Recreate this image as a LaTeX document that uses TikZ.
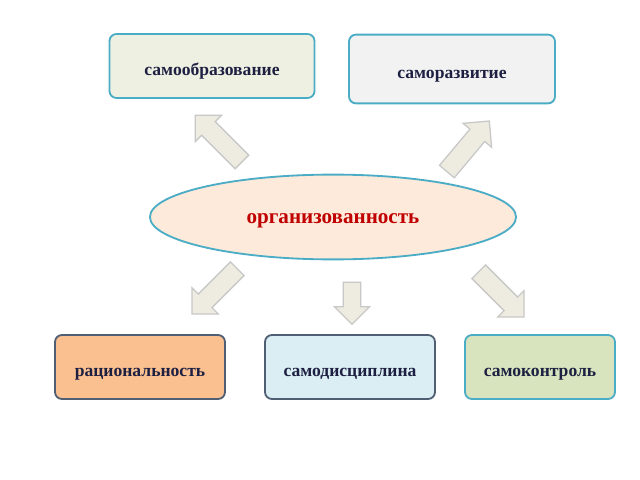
\documentclass[tikz,border=0pt]{standalone}
\usepackage{fontspec}
\setmainfont{Liberation Serif}
\usetikzlibrary{shapes.geometric,shapes.arrows}
\definecolor{boxline}{RGB}{75,172,198}
\definecolor{darkline}{RGB}{80,95,115}
\definecolor{boxtext}{RGB}{30,32,66}
\definecolor{redtext}{RGB}{192,0,0}
\definecolor{arrowfill}{RGB}{238,236,225}
\definecolor{arrowline}{RGB}{200,200,200}
\definecolor{fillA}{RGB}{238,240,226}
\definecolor{fillB}{RGB}{242,242,242}
\definecolor{fillC}{RGB}{250,192,144}
\definecolor{fillD}{RGB}{219,238,244}
\definecolor{fillE}{RGB}{215,228,189}
\definecolor{fillO}{RGB}{253,234,218}

\begin{document}
\begin{tikzpicture}[x=0.025cm, y=-0.025cm,
    box/.style={draw=boxline, line width=1.3pt, rounded corners=5pt,
      minimum height=1.6cm, inner sep=0pt, text=boxtext,
      text height=3ex, text depth=0pt,
      font=\fontsize{12.5}{15}\selectfont\bfseries},
    fatarrow/.style={single arrow, draw=arrowline, fill=arrowfill,
      line width=0.9pt, inner xsep=0pt, inner ysep=0.225cm,
      single arrow head extend=0.225cm, minimum height=1.65cm}]
    \useasboundingbox[fill=white] (0,0) rectangle (640,480);
    % Top row
    \node[box, fill=fillA, minimum width=5.125cm] (selfedu) at (212,66) {самообразование};
    \node[box, fill=fillB, minimum width=5.15cm, minimum height=1.72cm] (selfdev) at (452,69) {саморазвитие};
    % Centre ellipse
    \node[ellipse, draw=boxline, line width=1.3pt, fill=fillO, inner sep=0pt,
      minimum width=9.15cm, minimum height=2.12cm, text=redtext,
      text height=2ex, text depth=0pt,
      font=\fontsize{15}{18}\selectfont\bfseries] (org) at (333,217) {организованность};
    % Bottom row
    \node[box, fill=fillC, draw=darkline, minimum width=4.25cm] (ration) at (140,367) {рациональность};
    \node[box, fill=fillD, draw=darkline, minimum width=4.25cm] (discip) at (350,367) {самодисциплина};
    \node[box, fill=fillE, minimum width=3.75cm] (control) at (540,367) {самоконтроль};
    % Block arrows
    \node[fatarrow, rotate=135] (arrUL) at (222,142) {};
    \node[fatarrow, rotate=50] (arrUR) at (465,150) {};
    \node[fatarrow, rotate=225, minimum height=1.6cm] (arrDL) at (218,288) {};
    \node[fatarrow, rotate=270, minimum height=1.05cm, inner ysep=0.2cm] (arrD) at (352,299) {};
    \node[fatarrow, rotate=315, minimum height=1.6cm] (arrDR) at (498,291) {};
\end{tikzpicture}
\end{document}
